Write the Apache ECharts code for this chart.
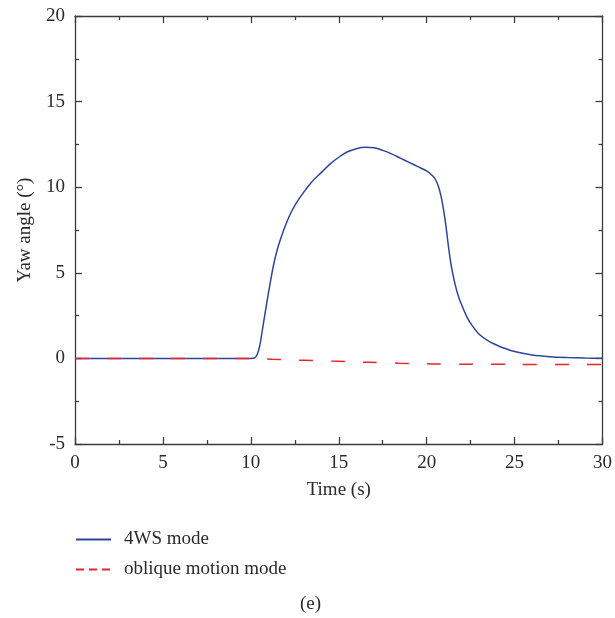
<!DOCTYPE html>
<html>
<head>
<meta charset="utf-8">
<script src="https://cdn.jsdelivr.net/npm/echarts@6/dist/echarts.min.js"></script>
<style>
  html, body { margin: 0; padding: 0; background: #fff; }
  #chart { width: 615px; height: 618px; }
</style>
</head>
<body>
<div id="chart"></div>
<script>
// Yaw angle time histories
const xTicks = [0, 5, 10, 15, 20, 25, 30];
const yTicks = [-5, 0, 5, 10, 15, 20];

const seriesNames = ['4WS mode', 'oblique motion mode'];

const time4ws = [0, 5, 10, 10.2, 10.35, 10.5, 10.7, 10.9, 11.1, 11.3, 11.5, 11.75, 12.0, 12.3, 12.6, 13.0, 13.5, 14.0, 14.5, 15.0, 15.5, 16.0, 16.5, 17.0, 17.5, 18.0, 18.5, 19.0, 19.5, 20.0, 20.35, 20.5, 20.65, 20.8, 20.95, 21.1, 21.25, 21.4, 21.6, 21.8, 22.0, 22.3, 22.6, 23.0, 23.5, 24.0, 24.5, 25.0, 26.0, 27.0, 28.0, 29.0, 30.0];
const yaw4ws = [0, 0, 0, 0.02, 0.2, 0.7, 1.95, 3.2, 4.4, 5.5, 6.35, 7.15, 7.85, 8.55, 9.1, 9.7, 10.35, 10.85, 11.35, 11.75, 12.07, 12.25, 12.33, 12.3, 12.15, 11.95, 11.7, 11.45, 11.2, 10.95, 10.65, 10.45, 10.1, 9.55, 8.75, 7.7, 6.45, 5.4, 4.4, 3.65, 3.1, 2.4, 1.9, 1.4, 1.03, 0.77, 0.56, 0.4, 0.2, 0.1, 0.05, 0.02, 0.01];

const timeOblique = [0, 5, 10, 11.2, 13, 14.9, 16.7, 18.4, 20.3, 22, 25, 30];
const yawOblique = [0, 0, 0, -0.05, -0.11, -0.17, -0.23, -0.28, -0.32, -0.34, -0.35, -0.36];

const font = '"Liberation Serif", "DejaVu Serif", serif';
const axisColor = '#3c3c3c';
const textColor = '#2a2a2a';

const zip = (xs, ys) => xs.map((x, i) => [x, ys[i]]);

const baseAxis = (min, max) => ({
    type: 'value',
    min: min,
    max: max,
    interval: 5,
    axisLine: { show: true, onZero: false, lineStyle: { color: axisColor, width: 1.3 } },
    axisTick: { show: true, inside: true, length: 7, lineStyle: { color: axisColor, width: 1.3 } },
    minorTick: { show: true, splitNumber: 2, length: 4, lineStyle: { color: axisColor, width: 1.3 } },
    splitLine: { show: false },
    axisLabel: { color: textColor, fontFamily: font, fontSize: 19, margin: 10 }
});

const chart = echarts.init(document.getElementById('chart'));
chart.setOption({
    animation: false,
    backgroundColor: '#fff',
    grid: { left: 75, right: 11, top: 16, bottom: 174 },
    xAxis: [
        Object.assign(baseAxis(0, 30), {
            position: 'bottom',
            name: 'Time (s)',
            nameLocation: 'middle',
            nameGap: 37,
            nameTextStyle: { color: textColor, fontFamily: font, fontSize: 19 }
        }),
        Object.assign(baseAxis(0, 30), { position: 'top', axisLabel: { show: false } })
    ],
    yAxis: [
        Object.assign(baseAxis(-5, 20), {
            position: 'left',
            name: 'Yaw angle (°)',
            nameLocation: 'middle',
            nameGap: 40,
            nameTextStyle: { color: textColor, fontFamily: font, fontSize: 19 }
        }),
        Object.assign(baseAxis(-5, 20), { position: 'right', axisLabel: { show: false } })
    ],
    legend: {
        orient: 'vertical',
        left: 75,
        top: 530,
        padding: 0,
        itemWidth: 35,
        itemHeight: 14,
        itemGap: 11,
        itemStyle: { opacity: 0 },
        textStyle: { color: textColor, fontFamily: font, fontSize: 19, padding: [0, 0, 0, 8] },
        data: [
            { name: seriesNames[0] },
            { name: seriesNames[1], lineStyle: { type: [8, 5] } }
        ]
    },
    graphic: [{
        type: 'text',
        left: 300,
        top: 595,
        style: { text: '(e)', fill: textColor, font: '19px ' + font }
    }],
    series: [
        {
            name: seriesNames[0],
            type: 'line',
            data: zip(time4ws, yaw4ws),
            symbol: 'none',
            smooth: 0.3,
            lineStyle: { color: '#2f44a0', width: 1.5 },
            itemStyle: { color: '#2f44a0' }
        },
        {
            name: seriesNames[1],
            type: 'line',
            data: zip(timeOblique, yawOblique),
            symbol: 'none',
            smooth: 0.3,
            lineStyle: { color: '#e8232b', width: 1.5, type: [14, 18] },
            itemStyle: { color: '#e8232b' }
        }
    ]
});

window.addEventListener('resize', () => chart.resize());
</script>
</body>
</html>
